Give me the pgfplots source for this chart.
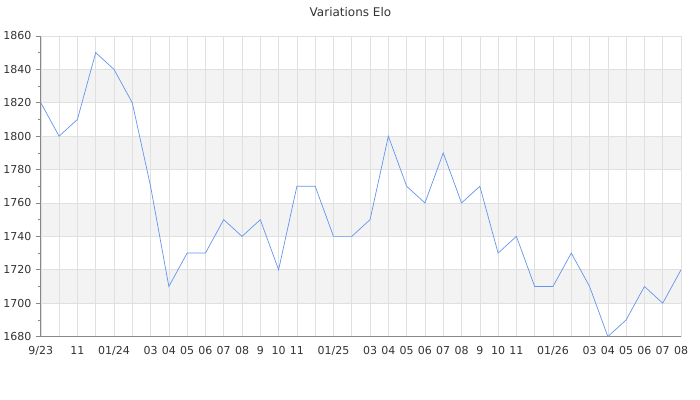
\documentclass[border=0pt]{standalone}
\usepackage{fontspec}
\setmainfont{DejaVu Sans}
\usepackage{pgfplots}
\pgfplotsset{compat=1.18}
\definecolor{linec}{RGB}{100,149,237}
\definecolor{gridc}{RGB}{224,224,224}
\definecolor{bandc}{RGB}{243,243,243}
\definecolor{axc}{RGB}{136,136,136}
\definecolor{txtc}{RGB}{51,51,51}
\begin{document}
\begin{tikzpicture}
\path (0,0) rectangle (700pt,400pt);
\node[text=txtc, font=\fontsize{12}{14}\selectfont, anchor=base] at (350pt,383pt) {Variations Elo};
\begin{axis}[
  at={(40pt,63pt)}, anchor=south west,
  scale only axis, width=641pt, height=301pt,
  set layers,
  xmin=0, xmax=35, ymin=1680, ymax=1860,
  axis x line*=bottom, axis y line*=left,
  axis line style={-, draw=axc, line width=0.8pt},
  xtick={0,...,35},
  xticklabels={9/23,,11,,01/24,,03,04,05,06,07,08,9,10,11,,01/25,,03,04,05,06,07,08,9,10,11,,01/26,,03,04,05,06,07,08},
  xtick style={draw=none},
  ytick={1680,1700,...,1860},
  minor y tick num=1,
  tick align=outside,
  major tick length=5pt, minor tick length=3pt,
  ytick style={draw=axc, line width=0.6pt},
  minor y tick style={draw=axc, line width=0.6pt},
  xmajorgrids, ymajorgrids,
  major grid style={draw=gridc, line width=0.6pt},
  ticklabel style={text=txtc, font=\fontsize{11}{13}\selectfont},
  /pgf/number format/assume math mode=true,
  /pgf/number format/set thousands separator={},
  xticklabel style={yshift=-1pt},
  yticklabel style={xshift=-1pt},
]
\addplot[fill=bandc, draw=none, forget plot, on layer=axis background] coordinates {(0,1820) (35,1820) (35,1840) (0,1840)} -- cycle;
\addplot[fill=bandc, draw=none, forget plot, on layer=axis background] coordinates {(0,1780) (35,1780) (35,1800) (0,1800)} -- cycle;
\addplot[fill=bandc, draw=none, forget plot, on layer=axis background] coordinates {(0,1740) (35,1740) (35,1760) (0,1760)} -- cycle;
\addplot[fill=bandc, draw=none, forget plot, on layer=axis background] coordinates {(0,1700) (35,1700) (35,1720) (0,1720)} -- cycle;
\addplot[linec, line width=0.7pt, mark=none] coordinates {
(0,1820) (1,1800) (2,1810) (3,1850) (4,1840) (5,1820) (6,1770) (7,1710)
(8,1730) (9,1730) (10,1750) (11,1740) (12,1750) (13,1720) (14,1770) (15,1770)
(16,1740) (17,1740) (18,1750) (19,1800) (20,1770) (21,1760) (22,1790) (23,1760)
(24,1770) (25,1730) (26,1740) (27,1710) (28,1710) (29,1730) (30,1710) (31,1680)
(32,1690) (33,1710) (34,1700) (35,1720)
};
\end{axis}
\end{tikzpicture}
\end{document}
